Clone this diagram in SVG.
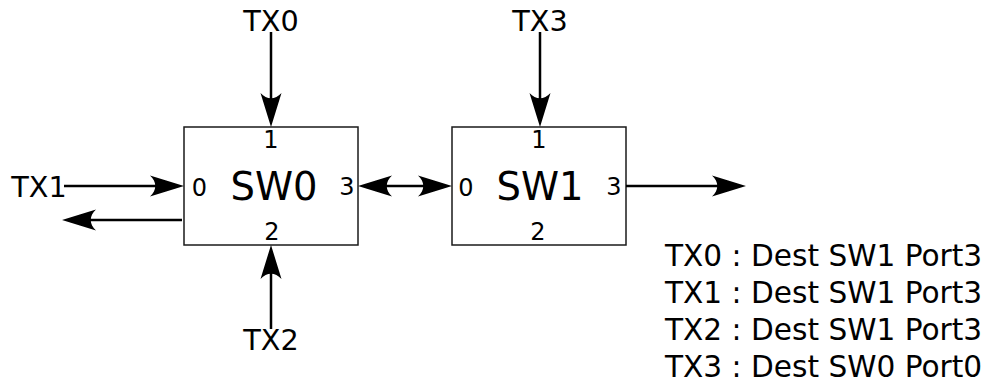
<svg xmlns="http://www.w3.org/2000/svg" width="988" height="383" viewBox="0 0 988 383">
<style>
text{font-family:"DejaVu Sans","Liberation Sans",sans-serif;fill:#000}
.tx{font-size:28.7px}
.lg{font-size:29.6px}
.sw{font-size:38.5px}
.pt{font-size:24px}
.box{fill:#fff;stroke:#1a1a1a;stroke-width:1.5}
.c{stroke:#000;stroke-width:2.5;fill:none}
.a{marker-end:url(#ah)}
.d{marker-start:url(#ahs);marker-end:url(#ah)}
</style>
<defs>
<marker id="ah" markerUnits="userSpaceOnUse" viewBox="-36 -12 40 24" markerWidth="40" markerHeight="24" refX="-20" refY="0" orient="auto">
<path d="M0,0 L-34,-10.5 C-27,-4 -27,4 -34,10.5 Z" fill="#000"/>
</marker>
<marker id="ahs" markerUnits="userSpaceOnUse" viewBox="-36 -12 40 24" markerWidth="40" markerHeight="24" refX="-20" refY="0" orient="auto-start-reverse">
<path d="M0,0 L-34,-10.5 C-27,-4 -27,4 -34,10.5 Z" fill="#000"/>
</marker>
</defs>
<g id="sw0">
<rect class="box" x="184" y="127" width="174" height="118"/>
<text class="sw" x="274" y="199.5" text-anchor="middle">SW0</text>
<text class="pt" x="199.5" y="195.5" text-anchor="middle">0</text>
<text class="pt" x="271" y="148" text-anchor="middle">1</text>
<text class="pt" x="272" y="240" text-anchor="middle">2</text>
<text class="pt" x="347" y="194.5" text-anchor="middle">3</text>
</g>
<g id="sw1">
<rect class="box" x="452" y="127" width="174" height="118"/>
<text class="sw" x="540" y="199.5" text-anchor="middle">SW1</text>
<text class="pt" x="466" y="195.5" text-anchor="middle">0</text>
<text class="pt" x="539" y="148" text-anchor="middle">1</text>
<text class="pt" x="538" y="240" text-anchor="middle">2</text>
<text class="pt" x="614" y="194.5" text-anchor="middle">3</text>
</g>
<g id="tx0"><text class="tx" x="271" y="31" text-anchor="middle">TX0</text></g>
<g id="tx3"><text class="tx" x="540" y="31" text-anchor="middle">TX3</text></g>
<g id="tx1"><text class="tx" x="39" y="197.3" text-anchor="middle">TX1</text></g>
<g id="tx2"><text class="tx" x="271" y="350" text-anchor="middle">TX2</text></g>
<g id="connectors">
<line class="c a" x1="271" y1="32" x2="271" y2="107"/>
<line class="c a" x1="540" y1="32" x2="540" y2="107"/>
<line class="c a" x1="271" y1="329" x2="271" y2="265"/>
<line class="c a" x1="64" y1="186" x2="164" y2="186"/>
<line class="c a" x1="182" y1="220" x2="82" y2="220"/>
<line class="c d" x1="378" y1="186" x2="432" y2="186"/>
<line class="c a" x1="626" y1="186" x2="726" y2="186"/>
</g>
<g id="legend">
<text class="lg" x="665" y="266">TX0 : Dest SW1 Port3</text>
<text class="lg" x="665" y="303">TX1 : Dest SW1 Port3</text>
<text class="lg" x="665" y="340">TX2 : Dest SW1 Port3</text>
<text class="lg" x="665" y="377">TX3 : Dest SW0 Port0</text>
</g>
</svg>
